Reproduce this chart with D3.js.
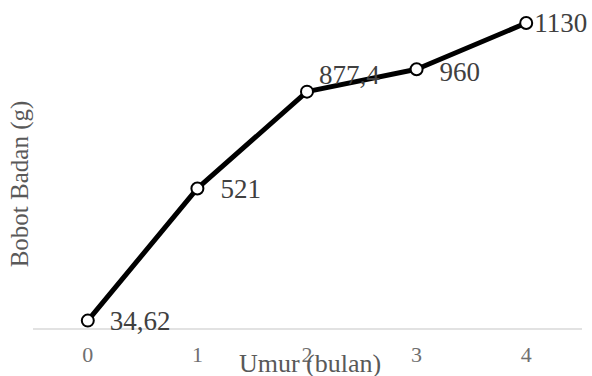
<!DOCTYPE html>
<html>
<head>
<meta charset="utf-8">
<script src="https://cdn.jsdelivr.net/npm/d3@7"></script>
<style>
  html, body { margin: 0; padding: 0; background: #fff; }
  svg { display: block; }
  svg text { font-family: "Times New Roman", "Liberation Serif", "DejaVu Serif", serif !important; }
</style>
</head>
<body>
<svg id="chart" width="592" height="376"></svg>
<script>
// Umur (bulan) vs Bobot Badan (g)
const categories = ["0", "1", "2", "3", "4"];
const values = [34.62, 521, 877.4, 960, 1130];
const valueLabels = ["34,62", "521", "877,4", "960", "1130"];

const width = 592, height = 376;
const margin = { top: 4, right: 11, bottom: 46, left: 33 };
const svg = d3.select("#chart");

const x = d3.scaleBand()
  .domain(categories)
  .range([margin.left, width - margin.right]);

const y = d3.scaleLinear()
  .domain([0, 1200])
  .range([height - margin.bottom, margin.top]);

const cx = d => x(d) + x.bandwidth() / 2;

// horizontal axis line
svg.append("line")
  .attr("x1", margin.left).attr("x2", width - margin.right + 1)
  .attr("y1", y(0) - 1).attr("y2", y(0) - 1)
  .attr("stroke", "#d9d9d9").attr("stroke-width", 1.5);

// category tick labels
const xAxis = d3.axisBottom(x).tickSize(0).tickPadding(0);
const gx = svg.append("g")
  .attr("transform", `translate(0,${y(0) + 32})`)
  .call(xAxis);
gx.attr("font-family", null);
gx.select(".domain").remove();
gx.selectAll("text")
  .attr("fill", "#6f6f6f")
  .attr("font-size", 22)
  .attr("dy", 0)
  .attr("y", 0);

// axis titles
svg.append("text")
  .attr("x", 310).attr("y", 372)
  .attr("text-anchor", "middle")
  .attr("fill", "#595959")
  .attr("font-size", 26)
  .text("Umur (bulan)");

svg.append("text")
  .attr("transform", `translate(28,184) rotate(-90)`)
  .attr("text-anchor", "middle")
  .attr("fill", "#595959")
  .attr("font-size", 25)
  .text("Bobot Badan (g)");

// series line
const pts = categories.map((c, i) => [cx(c), y(values[i])]);
svg.append("path")
  .attr("d", d3.line()(pts))
  .attr("fill", "none")
  .attr("stroke", "#000")
  .attr("stroke-width", 5)
  .attr("stroke-linejoin", "round");

// markers
svg.selectAll("circle.pt")
  .data(categories)
  .join("circle")
  .attr("class", "pt")
  .attr("cx", d => cx(d))
  .attr("cy", (d, i) => y(values[i]))
  .attr("r", 6)
  .attr("fill", "#fff")
  .attr("stroke", "#000")
  .attr("stroke-width", 2);

// data labels (right of each marker; the 877,4 label sits higher)
const labelDx = [22, 23, 12, 23, 8];
const labelDy = [0, 0, -17, 2, 0];
svg.selectAll("text.val")
  .data(categories)
  .join("text")
  .attr("class", "val")
  .attr("x", (d, i) => cx(d) + labelDx[i])
  .attr("y", (d, i) => y(values[i]) + labelDy[i])
  .attr("dy", "0.35em")
  .attr("fill", "#404040")
  .attr("font-size", 27)
  .text((d, i) => valueLabels[i]);
</script>
</body>
</html>
